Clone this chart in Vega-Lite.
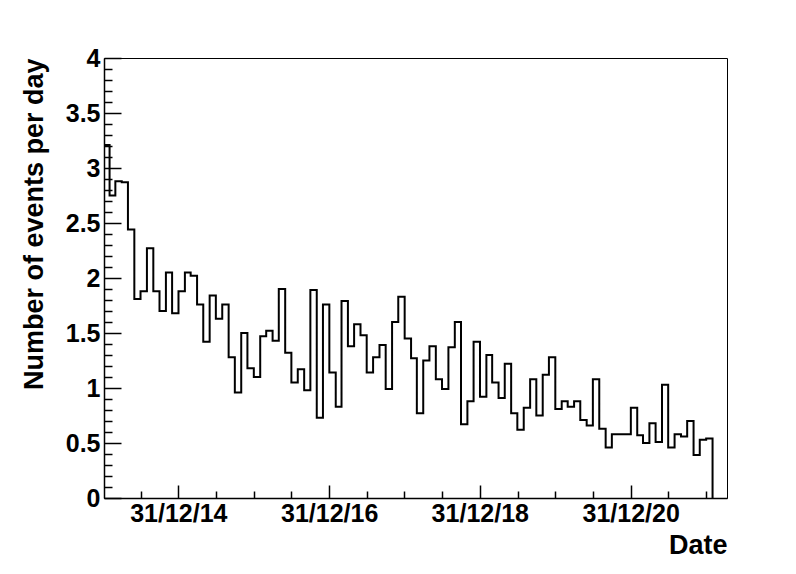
{
  "$schema": "https://vega.github.io/schema/vega-lite/v6.json",
  "width": 623,
  "height": 440,
  "autosize": "none",
  "padding": {"left": 104, "top": 58, "right": 69, "bottom": 76},
  "background": "white",
  "config": {
    "view": {"stroke": "black", "strokeWidth": 1},
    "font": "Liberation Sans",
    "axis": {"grid": false}
  },
  "data": {
    "values": [
      {"date": "2014-01-01", "value": 3.21},
      {"date": "2014-02-01", "value": 2.75},
      {"date": "2014-03-01", "value": 2.88},
      {"date": "2014-04-01", "value": 2.87},
      {"date": "2014-05-01", "value": 2.44},
      {"date": "2014-06-01", "value": 1.81},
      {"date": "2014-07-01", "value": 1.88},
      {"date": "2014-08-01", "value": 2.27},
      {"date": "2014-09-01", "value": 1.88},
      {"date": "2014-10-01", "value": 1.70},
      {"date": "2014-11-01", "value": 2.05},
      {"date": "2014-12-01", "value": 1.68},
      {"date": "2015-01-01", "value": 1.88},
      {"date": "2015-02-01", "value": 2.05},
      {"date": "2015-03-01", "value": 2.02},
      {"date": "2015-04-01", "value": 1.76},
      {"date": "2015-05-01", "value": 1.42},
      {"date": "2015-06-01", "value": 1.84},
      {"date": "2015-07-01", "value": 1.63},
      {"date": "2015-08-01", "value": 1.76},
      {"date": "2015-09-01", "value": 1.28},
      {"date": "2015-10-01", "value": 0.96},
      {"date": "2015-11-01", "value": 1.50},
      {"date": "2015-12-01", "value": 1.18},
      {"date": "2016-01-01", "value": 1.10},
      {"date": "2016-02-01", "value": 1.47},
      {"date": "2016-03-01", "value": 1.52},
      {"date": "2016-04-01", "value": 1.43},
      {"date": "2016-05-01", "value": 1.90},
      {"date": "2016-06-01", "value": 1.32},
      {"date": "2016-07-01", "value": 1.05},
      {"date": "2016-08-01", "value": 1.17},
      {"date": "2016-09-01", "value": 0.98},
      {"date": "2016-10-01", "value": 1.89},
      {"date": "2016-11-01", "value": 0.73},
      {"date": "2016-12-01", "value": 1.76},
      {"date": "2017-01-01", "value": 1.14},
      {"date": "2017-02-01", "value": 0.83},
      {"date": "2017-03-01", "value": 1.79},
      {"date": "2017-04-01", "value": 1.38},
      {"date": "2017-05-01", "value": 1.58},
      {"date": "2017-06-01", "value": 1.48},
      {"date": "2017-07-01", "value": 1.14},
      {"date": "2017-08-01", "value": 1.28},
      {"date": "2017-09-01", "value": 1.39},
      {"date": "2017-10-01", "value": 0.99},
      {"date": "2017-11-01", "value": 1.60},
      {"date": "2017-12-01", "value": 1.83},
      {"date": "2018-01-01", "value": 1.45},
      {"date": "2018-02-01", "value": 1.27},
      {"date": "2018-03-01", "value": 0.77},
      {"date": "2018-04-01", "value": 1.25},
      {"date": "2018-05-01", "value": 1.38},
      {"date": "2018-06-01", "value": 1.08},
      {"date": "2018-07-01", "value": 0.99},
      {"date": "2018-08-01", "value": 1.37},
      {"date": "2018-09-01", "value": 1.60},
      {"date": "2018-10-01", "value": 0.67},
      {"date": "2018-11-01", "value": 0.88},
      {"date": "2018-12-01", "value": 1.42},
      {"date": "2019-01-01", "value": 0.92},
      {"date": "2019-02-01", "value": 1.30},
      {"date": "2019-03-01", "value": 1.05},
      {"date": "2019-04-01", "value": 0.91},
      {"date": "2019-05-01", "value": 1.22},
      {"date": "2019-06-01", "value": 0.77},
      {"date": "2019-07-01", "value": 0.62},
      {"date": "2019-08-01", "value": 0.82},
      {"date": "2019-09-01", "value": 1.08},
      {"date": "2019-10-01", "value": 0.75},
      {"date": "2019-11-01", "value": 1.12},
      {"date": "2019-12-01", "value": 1.28},
      {"date": "2020-01-01", "value": 0.81},
      {"date": "2020-02-01", "value": 0.88},
      {"date": "2020-03-01", "value": 0.83},
      {"date": "2020-04-01", "value": 0.88},
      {"date": "2020-05-01", "value": 0.71},
      {"date": "2020-06-01", "value": 0.66},
      {"date": "2020-07-01", "value": 1.08},
      {"date": "2020-08-01", "value": 0.63},
      {"date": "2020-09-01", "value": 0.46},
      {"date": "2020-10-01", "value": 0.58},
      {"date": "2020-11-01", "value": 0.58},
      {"date": "2020-12-01", "value": 0.58},
      {"date": "2021-01-01", "value": 0.82},
      {"date": "2021-02-01", "value": 0.57},
      {"date": "2021-03-01", "value": 0.50},
      {"date": "2021-04-01", "value": 0.68},
      {"date": "2021-05-01", "value": 0.51},
      {"date": "2021-06-01", "value": 1.03},
      {"date": "2021-07-01", "value": 0.46},
      {"date": "2021-08-01", "value": 0.58},
      {"date": "2021-09-01", "value": 0.56},
      {"date": "2021-10-01", "value": 0.70},
      {"date": "2021-11-01", "value": 0.39},
      {"date": "2021-12-01", "value": 0.53},
      {"date": "2022-01-01", "value": 0.54},
      {"date": "2022-02-01", "value": 0}
    ]
  },
  "layer": [
    {
      "mark": {"type": "line", "interpolate": "step-after", "color": "black", "strokeWidth": 2, "clip": true},
      "encoding": {
        "x": {
          "field": "date", "type": "temporal",
          "scale": {"type": "utc", "domain": [{"year": 2014, "month": 1, "date": 5, "utc": true}, {"year": 2022, "month": 4, "date": 12, "utc": true}]},
          "axis": {
            "orient": "bottom",
            "values": [
              {"year": 2014, "month": 12, "date": 31, "utc": true},
              {"year": 2016, "month": 12, "date": 31, "utc": true},
              {"year": 2018, "month": 12, "date": 31, "utc": true},
              {"year": 2020, "month": 12, "date": 31, "utc": true}
            ],
            "format": "%d/%m/%y",
            "labelFont": "Liberation Sans", "labelFontWeight": "bold", "labelFontSize": 25, "labelColor": "black",
            "labelPadding": 16, "labelOverlap": false, "labelFlush": false,
            "tickSize": -13, "tickColor": "black", "tickWidth": 1.5,
            "domainColor": "black", "domainWidth": 1.5,
            "title": "Date",
            "titleFont": "Liberation Sans", "titleFontWeight": "bold", "titleFontSize": 27, "titleColor": "black",
            "titleAnchor": "end", "titleAlign": "right", "titleBaseline": "alphabetic",
            "titleX": 623, "titleY": 55
          }
        },
        "y": {
          "field": "value", "type": "quantitative",
          "scale": {"domain": [0, 4], "nice": false},
          "axis": {
            "orient": "left",
            "values": [0, 0.5, 1, 1.5, 2, 2.5, 3, 3.5, 4],
            "format": "~g",
            "labelFont": "Liberation Sans", "labelFontWeight": "bold", "labelFontSize": 25, "labelColor": "black",
            "labelPadding": 21, "labelOverlap": false, "labelFlush": false,
            "tickSize": -17, "tickColor": "black", "tickWidth": 1.5,
            "domainColor": "black", "domainWidth": 1.5,
            "title": "Number of events per day",
            "titleFont": "Liberation Sans", "titleFontWeight": "bold", "titleFontSize": 27, "titleColor": "black",
            "titleAngle": -90, "titleAnchor": "end", "titleAlign": "right", "titleBaseline": "alphabetic",
            "titleX": -62, "titleY": 0
          }
        }
      }
    },
    {
      "mark": {"type": "line", "strokeOpacity": 0},
      "encoding": {
        "x": {
          "field": "date", "type": "temporal",
          "axis": {
            "orient": "bottom",
            "values": [
              {"year": 2014, "month": 7, "date": 2, "utc": true},
              {"year": 2015, "month": 7, "date": 2, "utc": true},
              {"year": 2015, "month": 12, "date": 31, "utc": true},
              {"year": 2016, "month": 7, "date": 1, "utc": true},
              {"year": 2017, "month": 7, "date": 2, "utc": true},
              {"year": 2017, "month": 12, "date": 31, "utc": true},
              {"year": 2018, "month": 7, "date": 2, "utc": true},
              {"year": 2019, "month": 7, "date": 2, "utc": true},
              {"year": 2019, "month": 12, "date": 31, "utc": true},
              {"year": 2020, "month": 7, "date": 1, "utc": true},
              {"year": 2021, "month": 7, "date": 2, "utc": true},
              {"year": 2021, "month": 12, "date": 31, "utc": true}
            ],
            "labels": false, "domain": false, "title": null,
            "tickSize": -7, "tickColor": "black", "tickWidth": 1.5
          }
        },
        "y": {
          "field": "value", "type": "quantitative",
          "axis": {
            "orient": "left",
            "values": [0.1, 0.2, 0.3, 0.4, 0.6, 0.7, 0.8, 0.9, 1.1, 1.2, 1.3, 1.4, 1.6, 1.7, 1.8, 1.9, 2.1, 2.2, 2.3, 2.4, 2.6, 2.7, 2.8, 2.9, 3.1, 3.2, 3.3, 3.4, 3.6, 3.7, 3.8, 3.9],
            "labels": false, "domain": false, "title": null,
            "tickSize": -8, "tickColor": "black", "tickWidth": 1.5
          }
        }
      }
    }
  ],
  "resolve": {"axis": {"x": "independent", "y": "independent"}}
}
